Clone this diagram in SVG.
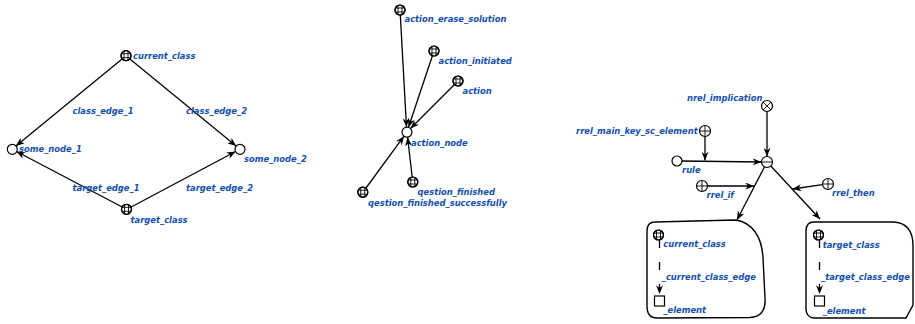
<svg xmlns="http://www.w3.org/2000/svg" xmlns:xlink="http://www.w3.org/1999/xlink" width="915" height="324" viewBox="0 0 915 324">
<defs>
<style>
.lbl{font-family:"DejaVu Sans","Liberation Sans",sans-serif;font-weight:bold;font-style:italic;font-size:8.4px;fill:#1450b0}
.edge{stroke:#000;stroke-width:1.3;fill:none;marker-end:url(#arr)}
.nd{fill:#fff;stroke:#000;stroke-width:1.2}
.hl{stroke:#000;stroke-width:0.9}
.box{fill:#fff;stroke:#000;stroke-width:1.4}
.dash{stroke:#000;stroke-width:1.3;fill:none;stroke-dasharray:8 14;marker-end:url(#arr)}
</style>
<marker id="arr" viewBox="0 0 10 8" refX="10" refY="4" markerWidth="9" markerHeight="7" markerUnits="userSpaceOnUse" orient="auto">
<path d="M0,0 L10,4 L0,8 L3,4 Z" fill="#000"/>
</marker>
<g id="grid">
<circle r="5" class="nd"/>
<line x1="-2" y1="-4.5" x2="-2" y2="4.5" class="hl"/>
<line x1="2" y1="-4.5" x2="2" y2="4.5" class="hl"/>
<line x1="-4.5" y1="-2" x2="4.5" y2="-2" class="hl"/>
<line x1="-4.5" y1="2" x2="4.5" y2="2" class="hl"/>
<circle r="5" fill="none" stroke="#000" stroke-width="1.2"/>
</g>
<g id="plus">
<circle r="5.5" class="nd"/>
<line x1="0" y1="-5.5" x2="0" y2="5.5" class="hl"/>
<line x1="-5.5" y1="0" x2="5.5" y2="0" class="hl"/>
</g>
<g id="cross">
<circle r="5.5" class="nd"/>
<line x1="-3.9" y1="-3.9" x2="3.9" y2="3.9" class="hl"/>
<line x1="-3.9" y1="3.9" x2="3.9" y2="-3.9" class="hl"/>
</g>
<g id="minus">
<circle r="5.5" class="nd"/>
<line x1="-5.5" y1="0" x2="5.5" y2="0" class="hl"/>
</g>
</defs>
<rect width="915" height="324" fill="#fff"/>

<g id="box_left">
<path class="box" d="M655,222 L735,220 C753,222 762,238 763,258 L765,298 C766,311 760,317 750,317.5 L657,318 C650,318 647,313 647,306 L647,231 C647,225 650,222 655,222 Z"/>
</g>
<g id="box_right">
<path class="box" d="M814,222 L893,222 C906,222 913,231 913,245 L913,305 L906,318 L814,318 C809,318 806,314 806,309 L806,231 C806,225 809,222 814,222 Z"/>
</g>

<g id="connectors">
<line class="edge" x1="122.1" y1="58.9" x2="15.9" y2="146"/>
<line class="edge" x1="129.9" y1="58.9" x2="236.1" y2="146"/>
<line class="edge" x1="122.2" y1="207" x2="16.5" y2="151.5"/>
<line class="edge" x1="131.2" y1="207" x2="235.6" y2="151.5"/>

<line class="edge" x1="400.3" y1="15" x2="406.5" y2="127"/>
<line class="edge" x1="432.4" y1="55.7" x2="408.5" y2="127.3"/>
<line class="edge" x1="454.5" y1="84.5" x2="410.5" y2="128.5"/>
<line class="edge" x1="412.2" y1="177" x2="407.6" y2="137.3"/>
<line class="edge" x1="366" y1="188" x2="404" y2="136.2"/>

<line class="edge" x1="767" y1="111.5" x2="767" y2="156.5"/>
<line class="edge" x1="682" y1="161" x2="761.5" y2="162"/>
<line class="edge" x1="705" y1="136.5" x2="705" y2="160.5"/>
<line class="edge" x1="764.5" y1="166.8" x2="737" y2="220"/>
<line class="edge" x1="770.8" y1="166" x2="820" y2="219"/>
<line class="edge" x1="707.5" y1="186" x2="754" y2="186"/>
<line class="edge" x1="822.5" y1="184.6" x2="792.5" y2="189"/>

<line class="dash" x1="659.5" y1="240" x2="659.5" y2="294"/>
<line class="dash" x1="819.5" y1="240" x2="819.5" y2="294"/>
</g>

<g id="n_current_class"><use xlink:href="#grid" x="126" y="55.7"/><text class="lbl" x="133" y="59">current_class</text></g>
<g id="n_some_node_1"><circle class="nd" cx="12.3" cy="149.3" r="5"/><text class="lbl" x="19" y="152">some_node_1</text></g>
<g id="n_some_node_2"><circle class="nd" cx="240" cy="149.3" r="5"/><text class="lbl" x="244" y="162">some_node_2</text></g>
<g id="n_target_class"><use xlink:href="#grid" x="126.5" y="209.3"/><text class="lbl" x="130.5" y="222.5">target_class</text></g>
<g id="l_edges_left">
<text class="lbl" x="72.5" y="114">class_edge_1</text>
<text class="lbl" x="186" y="114">class_edge_2</text>
<text class="lbl" x="72.5" y="190.5">target_edge_1</text>
<text class="lbl" x="186" y="190.5">target_edge_2</text>
</g>

<g id="n_action_erase_solution"><use xlink:href="#grid" x="400" y="10"/><text class="lbl" x="404.5" y="22">action_erase_solution</text></g>
<g id="n_action_initiated"><use xlink:href="#grid" x="434" y="51"/><text class="lbl" x="438.5" y="64">action_initiated</text></g>
<g id="n_action"><use xlink:href="#grid" x="458" y="81"/><text class="lbl" x="462.5" y="94">action</text></g>
<g id="n_action_node"><circle class="nd" cx="407" cy="132.2" r="5"/><text class="lbl" x="411" y="145.5">action_node</text></g>
<g id="n_qestion_finished"><use xlink:href="#grid" x="412.8" y="182"/><text class="lbl" x="417.5" y="195">qestion_finished</text></g>
<g id="n_qestion_finished_successfully"><use xlink:href="#grid" x="362.8" y="192.2"/><text class="lbl" x="368" y="205.5">qestion_finished_successfully</text></g>

<g id="n_nrel_implication"><use xlink:href="#cross" x="767" y="106"/><text class="lbl" x="687" y="101">nrel_implication</text></g>
<g id="n_rrel_main_key_sc_element"><use xlink:href="#plus" x="705" y="131"/><text class="lbl" x="576" y="133.5">rrel_main_key_sc_element</text></g>
<g id="n_rule"><circle class="nd" cx="677" cy="161" r="5"/><text class="lbl" x="682" y="173">rule</text></g>
<g id="n_rule_pair"><use xlink:href="#minus" x="767" y="162"/></g>
<g id="n_rrel_if"><use xlink:href="#plus" x="702" y="186"/><text class="lbl" x="706.5" y="198">rrel_if</text></g>
<g id="n_rrel_then"><use xlink:href="#plus" x="828" y="184"/><text class="lbl" x="832" y="196">rrel_then</text></g>

<g id="n_l_current_class"><use xlink:href="#grid" x="658.5" y="235"/><text class="lbl" x="663.3" y="246.5">current_class</text></g>
<g id="l_current_class_edge"><text class="lbl" x="661.7" y="279.5">_current_class_edge</text></g>
<g id="n_l_element"><rect class="nd" x="654.5" y="296" width="10" height="10"/><text class="lbl" x="663.3" y="312.5">_element</text></g>

<g id="n_r_target_class"><use xlink:href="#grid" x="818.5" y="235"/><text class="lbl" x="822.7" y="247.5">target_class</text></g>
<g id="l_target_class_edge"><text class="lbl" x="821" y="280">_target_class_edge</text></g>
<g id="n_r_element"><rect class="nd" x="814.5" y="296" width="10" height="10"/><text class="lbl" x="822.7" y="314">_element</text></g>
</svg>
